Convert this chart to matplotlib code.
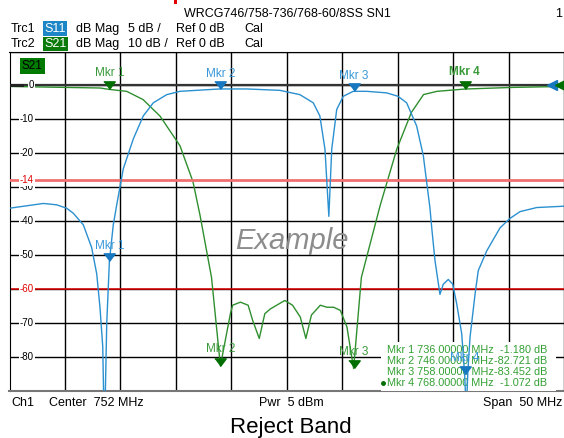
import matplotlib
matplotlib.use("Agg")
import matplotlib.pyplot as plt
from matplotlib.patches import Rectangle
import numpy as np

plt.rcParams['font.family'] = ['Liberation Sans', 'DejaVu Sans']

################################################################################
# data ----
################################################################################

# S21 (10 dB/div, ref 0 dB)
s21_freq = [727.0, 735.15, 736.0, 737.56, 739.03, 740.56, 742.36, 743.53, 744.16,
            745.2, 746.0, 746.9, 747.1, 747.8, 748.5, 748.9, 749.5, 750.0, 750.5,
            751.8, 752.5, 753.2, 753.7, 754.2, 755.0, 755.6, 756.2, 756.8, 757.4,
            758.0, 758.7, 760.4, 761.9, 763.2, 764.3, 765.5, 768.0, 772.4, 777.0]
s21_db = [-0.3, -0.76, -1.18, -1.75, -4.17, -9.04, -17.8, -28.4, -38.2,
          -56.6, -82.7, -67.3, -64.8, -63.9, -64.8, -69.2, -74.6, -67.3, -65.9,
          -63.4, -64.8, -68.3, -74.6, -67.7, -64.8, -65.4, -65.4, -66.3, -71.2,
          -83.45, -56.6, -35.3, -18.7, -8.0, -2.7, -1.75, -1.07, -0.58, -0.3]

# S11 (5 dB/div, ref 0 dB)
s11_freq = [727.0, 730.05, 731.25, 732.15, 732.75, 733.65, 734.4, 734.86, 735.15,
            735.4, 735.55, 735.76, 736.0, 736.35, 736.66, 737.25, 738.15, 739.05,
            739.95, 741.16, 742.36, 745.96, 748.37, 751.37, 753.16, 754.37, 754.96,
            755.42, 755.77, 756.03, 756.48, 757.07, 757.97, 759.18, 760.98, 762.0,
            762.78, 763.68, 764.28, 764.88, 765.04, 765.33, 765.78, 766.08, 766.53,
            766.93, 767.29, 767.74, 768.0, 768.15, 768.3, 768.49, 768.94, 769.23,
            769.99, 771.19, 772.09, 773.0, 774.5, 777.0]
s11_db = [-18.1, -17.4, -17.6, -18.1, -18.85, -20.55, -23.9, -27.8, -32.7,
          -38.5, -52.0, -35.1, -25.9, -20.55, -17.6, -12.3, -7.9, -4.5,
          -2.57, -1.36, -0.87, -0.52, -0.52, -0.73, -1.36, -2.57, -4.5,
          -9.4, -19.3, -9.4, -3.54, -1.6, -0.87, -0.87, -1.1, -1.6,
          -2.57, -5.98, -10.35, -18.1, -21.0, -25.8, -30.8, -29.3, -28.6,
          -29.3, -32.2, -36.6, -42.5, -48.0, -42.0, -37.1, -30.8, -27.3,
          -24.4, -21.0, -19.6, -18.6, -18.0, -17.8]

# markers
mkr_names = ['Mkr 1', 'Mkr 2', 'Mkr 3', 'Mkr 4']
mkr_freq = [736.0, 746.0, 758.0, 768.0]
mkr_s21 = [-1.180, -82.721, -83.452, -1.072]
mkr_s11 = [-25.9, -0.52, -0.87, -42.5]
mkr_table = [('Mkr 1 736.00000 MHz', '-1.180 dB'),
             ('Mkr 2 746.00000 MHz', '-82.721 dB'),
             ('Mkr 3 758.00000 MHz', '-83.452 dB'),
             ('Mkr 4 768.00000 MHz', '-1.072 dB')]

# axis labels and limit lines
ytick_vals = [0, -10, -20, -30, -40, -50, -70, -80]
s21_limit = -60
s11_limit = -14

################################################################################
# figure ----
################################################################################

W, H = 564, 438
fig = plt.figure(figsize=(W / 100, H / 100), dpi=100)

def fx(px):
    return px / W

def fy(py):
    return 1 - py / H

ax = fig.add_axes([fx(9.5), fy(390.7), (564.5 - 9.5) / W, (390.7 - 51.5) / H])
ax.set_xlim(727, 777)
ax.set_ylim(-90, 10)
ax.set_xticks(np.arange(727, 778, 5))
ax.set_yticks(np.arange(-90, 11, 10))
ax.tick_params(length=0, labelleft=False, labelbottom=False)
ax.grid(True, color='black', lw=1.0, zorder=1)
ax.set_axisbelow(True)
for s in ['top', 'left']:
    ax.spines[s].set_color('black')
ax.spines['bottom'].set_color('#777777')
ax.spines['bottom'].set_linewidth(1.5)
ax.spines['right'].set_visible(False)

ax2 = ax.twinx()
ax2.set_ylim(-45, 5)
ax2.set_yticks([])
for s in ax2.spines.values():
    s.set_visible(False)

blue = '#2b90d0'
green = '#2f8f2f'
blue_dark = '#1778c0'
green_dark = '#006e00'

# ref level line and limit lines
ax.axhline(0, color='#333333', lw=1.6, zorder=1.5)
ax.axhline(s21_limit, color='#e00000', lw=1.1, zorder=2)
ax2.axhline(s11_limit, color='#f07070', lw=2.0, zorder=2)

# traces
ax2.plot(s11_freq, s11_db, color=blue, lw=1.0, zorder=3)
ax.plot(s21_freq, s21_db, color=green, lw=1.0, zorder=3)

# y tick labels drawn inside the plot
yt = ax.get_yaxis_transform()
lab_x = (34 - 9.5) / 555
for v in ytick_vals:
    ax.text(lab_x, v, str(v), transform=yt, ha='right', va='center', fontsize=7,
            color='black', zorder=6,
            bbox=dict(fc='white', ec='none', pad=0.6))
ax.text(lab_x, s21_limit, str(s21_limit), transform=yt, ha='right', va='center',
        fontsize=7, color='#e00000', zorder=6,
        bbox=dict(fc='white', ec='none', pad=0.6))
ax2.text(lab_x, s11_limit, str(s11_limit), transform=ax2.get_yaxis_transform(),
         ha='right', va='center', fontsize=7, color='#e00000', zorder=7,
         bbox=dict(fc='white', ec='none', pad=0.6))

# ref markers at the edges
ax.plot([0, (22 - 9.5) / 555], [0, 0], transform=yt, color='#222222', lw=2.2, zorder=5)
ax.plot([(552 - 9.5) / 555], [0], transform=yt, marker='<', color=blue_dark,
        ms=7, zorder=6, clip_on=False)
ax.plot([(560 - 9.5) / 555], [0], transform=yt, marker='<', color=green_dark,
        ms=7, zorder=6, clip_on=False)

# S21 label box
ax.text((22 - 9.5) / 555, 1 - (66 - 51.5) / 339.2, 'S21', transform=ax.transAxes,
        ha='left', va='center', fontsize=8.5, color='black', zorder=6,
        bbox=dict(fc='#007a00', ec='none', pad=1.2))

# marker table
ax.add_patch(Rectangle(((381 - 9.5) / 555, 0), (556 - 381) / 555, (390.7 - 342) / 339.2,
                       transform=ax.transAxes, fc='white', ec='none', zorder=8))
for i, (a, b) in enumerate(mkr_table):
    yy = 1 - (350 + 11.1 * i - 51.5) / 339.2
    ax.text((387 - 9.5) / 555, yy, a, transform=ax.transAxes, ha='left', va='center',
            fontsize=7.8, color='#33a033', zorder=9)
    ax.text((547 - 9.5) / 555, yy, b, transform=ax.transAxes, ha='right', va='center',
            fontsize=7.8, color='#33a033', zorder=9)
ax.plot([(382.5 - 9.5) / 555], [1 - (383.3 - 51.5) / 339.2], transform=ax.transAxes,
        marker='o', ms=2.5, color=green_dark, zorder=9)

# markers: triangle tip sits on the trace value
tri = [(-6, 8), (6, 8), (0, 0)]
for i, name in enumerate(mkr_names):
    bold = 'bold' if i == 3 else 'normal'
    ax.plot(mkr_freq[i], mkr_s21[i], marker=tri, ms=11, color=green_dark,
            lw=0, zorder=10, clip_on=False)
    ax.annotate(name, (mkr_freq[i], mkr_s21[i]), xytext=(0, 12),
                textcoords='offset points', ha='center', va='center',
                fontsize=8.5, color='#3a9a3a', fontweight=bold, zorder=10)
    ax2.plot(mkr_freq[i], mkr_s11[i], marker=tri, ms=11, color=blue_dark,
             lw=0, zorder=10, clip_on=False)
    ax2.annotate(name, (mkr_freq[i], mkr_s11[i]), xytext=(0, 11),
                 textcoords='offset points', ha='center', va='center',
                 fontsize=8.5, color='#3a98d8', zorder=10)

# watermark
ax.text(0.508, 0.44, 'Example', transform=ax.transAxes, ha='center', va='center',
        fontsize=21, style='italic', color='#8c8c8c', zorder=7)

################################################################################
# header and footer text ----
################################################################################

fig.text(fx(287), fy(14.4), 'WRCG746/758-736/768-60/8SS SN1', ha='center',
         va='center', fontsize=9)
fig.text(fx(559), fy(14.4), '1', ha='center', va='center', fontsize=9)
fig.patches.append(Rectangle((fx(173.5), fy(4)), 3.5 / W, 4 / H,
                             transform=fig.transFigure, fc='#e00000', ec='none'))

for row, (trc, sp, bg, scale) in enumerate([('Trc1', 'S11', '#1c86c6', '5 dB /'),
                                             ('Trc2', 'S21', '#0a7a0a', '10 dB /')]):
    yy = fy(28.8 + 15.2 * row)
    fig.text(fx(10.8), yy, trc, ha='left', va='center', fontsize=9)
    fig.text(fx(44.5), yy, sp, ha='left', va='center', fontsize=9, color='white',
             bbox=dict(fc=bg, ec='none', pad=1.0))
    fig.text(fx(75.5), yy, 'dB Mag', ha='left', va='center', fontsize=9)
    fig.text(fx(127.7), yy, scale, ha='left', va='center', fontsize=9)
    fig.text(fx(176), yy, 'Ref 0 dB', ha='left', va='center', fontsize=9)
    fig.text(fx(244.6), yy, 'Cal', ha='left', va='center', fontsize=9)

fig.text(fx(11), fy(403.3), 'Ch1', ha='left', va='center', fontsize=9)
fig.text(fx(49), fy(403.3), 'Center  752 MHz', ha='left', va='center', fontsize=9)
fig.text(fx(291), fy(403.3), 'Pwr  5 dBm', ha='center', va='center', fontsize=9)
fig.text(fx(562), fy(403.3), 'Span  50 MHz', ha='right', va='center', fontsize=9)
fig.text(fx(291), fy(428), 'Reject Band', ha='center', va='center', fontsize=16)

fig.savefig('out.png', dpi=100)
